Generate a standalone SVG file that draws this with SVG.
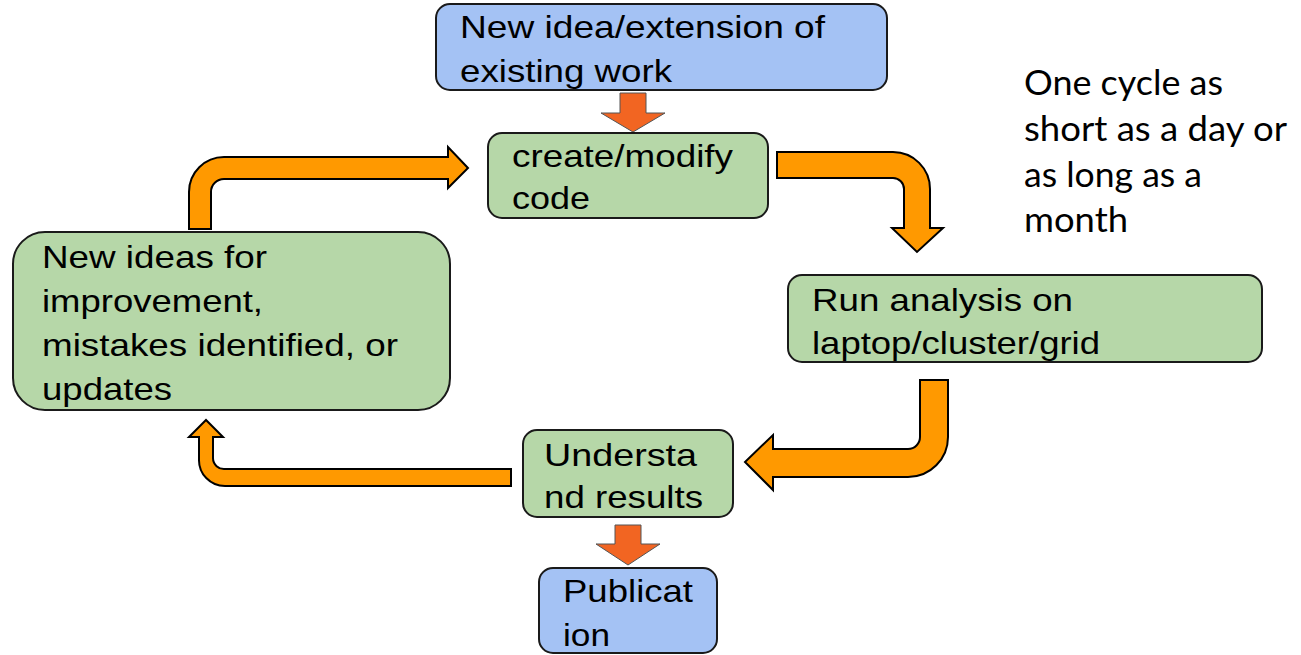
<svg xmlns="http://www.w3.org/2000/svg" width="1301" height="655" viewBox="0 0 1301 655">
<style>
.box{stroke:#1a1a1a;stroke-width:2}
.blue{fill:#a4c2f4}
.green{fill:#b6d7a8}
.t{font-family:"Liberation Sans",Arial,sans-serif;font-size:32px;fill:#000}
.note{font-family:Lato,"Open Sans",sans-serif;font-size:35px;fill:#000}
.big{fill:#ff9900;stroke:#000;stroke-width:2;stroke-linejoin:miter}
.small{fill:#f26522;stroke:#555;stroke-width:1}
</style>
<rect width="1301" height="655" fill="#fff"/>
<g id="connectors">
<path class="small" d="M620,93 L646,93 L646,113 L665,113 L633,132 L601,113 L620,113 Z"/>
<path class="big" d="M189,229 L189,192 A35,35 0 0 1 224,157 L448,157 L448,147 L468,168 L448,188 L448,179 L224,179 A13,13 0 0 0 211,192 L211,229 Z"/>
<path class="big" d="M777,152 L893,152 A37,37 0 0 1 930,189 L930,228 L943,228 L917,252 L892,228 L904,228 L904,189 A11,11 0 0 0 893,178 L777,178 Z"/>
<path class="big" d="M920,380 L948,380 L948,437 A40,40 0 0 1 908,477 L773,477 L773,490 L745,462 L773,435 L773,449 L908,449 A12,12 0 0 0 920,437 Z"/>
<path class="big" d="M511,469 L225,469 A11,11 0 0 1 213,458 L213,437 L223,437 L206,420 L189,437 L199,437 L199,459 A26,26 0 0 0 225,486 L511,486 Z"/>
<path class="small" d="M615,525 L641,525 L641,544 L660,544 L628,565 L596,544 L615,544 Z"/>
</g>
<g id="node-new-idea">
<rect class="box blue" x="436" y="4" width="451" height="86" rx="14"/>
<text class="t" x="460" y="38" textLength="365" lengthAdjust="spacingAndGlyphs">New idea/extension of</text>
<text class="t" x="460" y="82" textLength="212" lengthAdjust="spacingAndGlyphs">existing work</text>
</g>
<g id="node-create">
<rect class="box green" x="488" y="133" width="280" height="85" rx="14"/>
<text class="t" x="512" y="167" textLength="221" lengthAdjust="spacingAndGlyphs">create/modify</text>
<text class="t" x="512" y="209" textLength="78" lengthAdjust="spacingAndGlyphs">code</text>
</g>
<g id="node-ideas">
<rect class="box green" x="13" y="232" width="437" height="178" rx="32"/>
<text class="t" x="42" y="268" textLength="225" lengthAdjust="spacingAndGlyphs">New ideas for</text>
<text class="t" x="42" y="312" textLength="221" lengthAdjust="spacingAndGlyphs">improvement,</text>
<text class="t" x="42" y="356" textLength="356" lengthAdjust="spacingAndGlyphs">mistakes identified, or</text>
<text class="t" x="42" y="400" textLength="130" lengthAdjust="spacingAndGlyphs">updates</text>
</g>
<g id="node-run">
<rect class="box green" x="788" y="275" width="474" height="87" rx="14"/>
<text class="t" x="812" y="311" textLength="261" lengthAdjust="spacingAndGlyphs">Run analysis on</text>
<text class="t" x="812" y="354" textLength="288" lengthAdjust="spacingAndGlyphs">laptop/cluster/grid</text>
</g>
<g id="node-understand">
<rect class="box green" x="523" y="430" width="210" height="87" rx="14"/>
<text class="t" x="544" y="466" textLength="153" lengthAdjust="spacingAndGlyphs">Understa</text>
<text class="t" x="544" y="508" textLength="159" lengthAdjust="spacingAndGlyphs">nd results</text>
</g>
<g id="node-publication">
<rect class="box blue" x="539" y="568" width="178" height="85" rx="14"/>
<text class="t" x="563" y="602" textLength="130" lengthAdjust="spacingAndGlyphs">Publicat</text>
<text class="t" x="563" y="646" textLength="47" lengthAdjust="spacingAndGlyphs">ion</text>
</g>
<g id="note">
<text class="note" x="1024" y="95" textLength="199" lengthAdjust="spacingAndGlyphs">One cycle as</text>
<text class="note" x="1024" y="141" textLength="263" lengthAdjust="spacingAndGlyphs">short as a day or</text>
<text class="note" x="1024" y="187" textLength="178" lengthAdjust="spacingAndGlyphs">as long as a</text>
<text class="note" x="1024" y="232" textLength="104" lengthAdjust="spacingAndGlyphs">month</text>
</g>
</svg>
